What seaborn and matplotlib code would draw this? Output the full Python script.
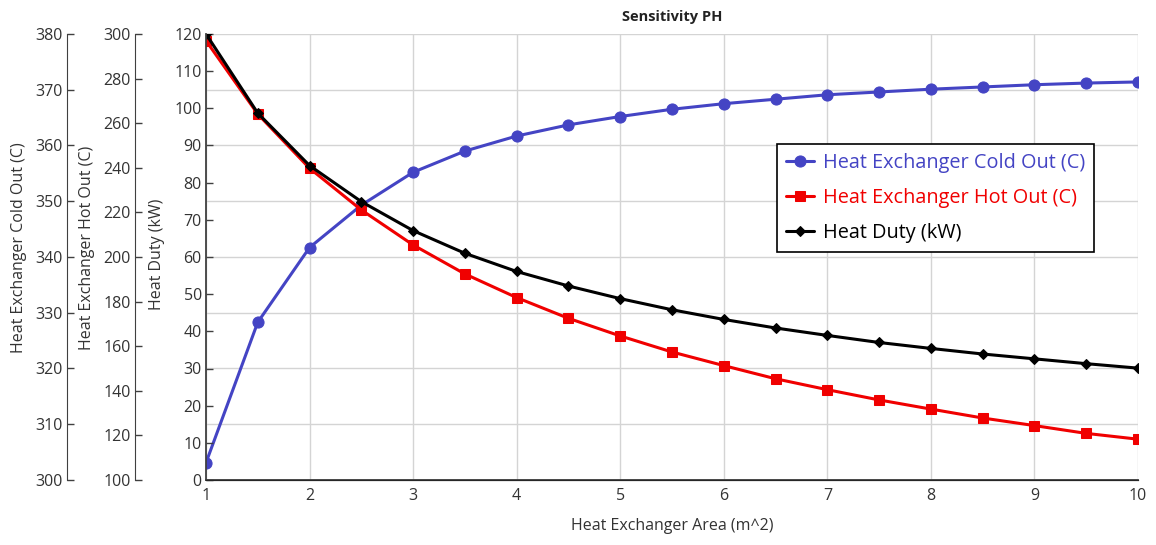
import matplotlib
matplotlib.use("Agg")
import matplotlib.pyplot as plt
import seaborn as sns
import pandas as pd

area = [1, 1.5, 2, 2.5, 3, 3.5, 4, 4.5, 5, 5.5, 6, 6.5, 7, 7.5, 8, 8.5, 9, 9.5, 10]
cold_out = [303.1, 328.3, 341.7, 349.3, 355.2, 359.0, 361.7, 363.7, 365.2, 366.5,
            367.5, 368.3, 369.1, 369.6, 370.1, 370.5, 370.9, 371.2, 371.4]
hot_out = [297.0, 264.1, 239.8, 221.1, 205.4, 192.4, 181.8, 172.5, 164.6, 157.4,
           151.3, 145.4, 140.5, 135.9, 131.8, 127.8, 124.4, 120.9, 118.3]
heat_duty = [120.0, 98.7, 84.6, 74.9, 67.1, 61.0, 56.1, 52.2, 48.8, 45.8,
             43.2, 40.9, 38.9, 37.0, 35.4, 33.9, 32.6, 31.3, 30.1]

x_ticks = list(range(1, 11))
cold_ticks = list(range(300, 381, 10))
hot_ticks = list(range(100, 301, 20))
duty_ticks = list(range(0, 121, 10))

df = pd.DataFrame({"area": area, "cold": cold_out, "hot": hot_out, "duty": heat_duty})

sns.set_style("white")
plt.rcParams["font.family"] = ["Open Sans", "DejaVu Sans"]

BLUE = "#4444C4"
RED = "#F00000"
BLACK = "#000000"
TXT = "#333333"

fig = plt.figure(figsize=(11.56, 5.45), dpi=100)
ax_c = fig.add_axes([206/1156, 65/545, 932/1156, 446/545])
ax_h = ax_c.twinx()
ax_d = ax_c.twinx()

for a in (ax_c, ax_h, ax_d):
    a.set_xlim(1, 10)
    a.patch.set_visible(False)
    for s in ("top", "right"):
        a.spines[s].set_visible(False)

# Cold out (host, gridlines)
sns.lineplot(data=df, x="area", y="cold", ax=ax_c, color=BLUE, marker="o",
             markersize=8, markeredgecolor=BLUE, linewidth=2.2,
             label="Heat Exchanger Cold Out (C)", legend=False)
ax_c.set_ylim(300, 380)
ax_c.set_yticks(cold_ticks)
ax_c.set_xticks(x_ticks)
ax_c.grid(True, color="#d4d4d4", linewidth=1)
ax_c.spines["left"].set_position(("axes", (67 - 206) / 932))
ax_c.spines["bottom"].set_color("#404040")
ax_c.spines["bottom"].set_linewidth(1.3)
ax_c.spines["left"].set_color("#404040")

# Hot out
sns.lineplot(data=df, x="area", y="hot", ax=ax_h, color=RED, marker="s",
             markersize=7.5, markeredgecolor=RED, linewidth=2.2,
             label="Heat Exchanger Hot Out (C)", legend=False)
ax_h.set_ylim(100, 300)
ax_h.set_yticks(hot_ticks)
ax_h.yaxis.set_ticks_position("left")
ax_h.yaxis.set_label_position("left")
ax_h.spines["left"].set_visible(True)
ax_h.spines["left"].set_position(("axes", (135 - 206) / 932))
ax_h.spines["left"].set_color("#404040")

# Heat duty
sns.lineplot(data=df, x="area", y="duty", ax=ax_d, color=BLACK, marker="D",
             markersize=5.5, markeredgecolor=BLACK, linewidth=2.2,
             label="Heat Duty (kW)", legend=False)
ax_d.set_ylim(0, 120)
ax_d.set_yticks(duty_ticks)
ax_d.yaxis.set_ticks_position("left")
ax_d.yaxis.set_label_position("left")
ax_d.spines["left"].set_visible(True)
ax_d.spines["left"].set_position(("axes", 0))
ax_d.spines["left"].set_color("#404040")
ax_d.spines["left"].set_linewidth(1.3)

for a in (ax_c, ax_h, ax_d):
    a.tick_params(axis="both", direction="in", length=5, width=1, colors="#404040",
                  labelcolor=TXT, labelsize=11.5, pad=3)
ax_c.tick_params(axis="x", pad=6)

ax_c.set_xlabel("Heat Exchanger Area (m^2)", fontsize=11.5, color=TXT)
ax_c.xaxis.set_label_coords(0.5, -0.085)
ax_c.set_ylabel("Heat Exchanger Cold Out (C)", fontsize=11.5, color=TXT)
ax_c.yaxis.set_label_coords((27 - 206) / 932, 0.52)
ax_h.set_ylabel("Heat Exchanger Hot Out (C)", fontsize=11.5, color=TXT)
ax_h.yaxis.set_label_coords((95 - 206) / 932, 0.52)
ax_d.set_ylabel("Heat Duty (kW)", fontsize=11.5, color=TXT)
ax_d.yaxis.set_label_coords((165 - 206) / 932, 0.505)

ax_c.set_title("Sensitivity PH", fontsize=10.5, fontweight="bold", color="#222222", pad=9)

handles = []
labels = []
for a in (ax_c, ax_h, ax_d):
    h, l = a.get_legend_handles_labels()
    handles += h
    labels += l
leg = ax_d.legend(handles, labels, loc="upper left",
                  bbox_to_anchor=((777 - 206) / 932, (480 - 144) / 446),
                  borderaxespad=0,
                  fontsize=14.3, frameon=True, fancybox=False, framealpha=1,
                  edgecolor="black", borderpad=0.45, labelspacing=0.75,
                  handlelength=1.4, handletextpad=0.45)
leg.get_frame().set_linewidth(1.2)
for t, c in zip(leg.get_texts(), (BLUE, RED, BLACK)):
    t.set_color(c)

fig.savefig("out.png", dpi=100)
